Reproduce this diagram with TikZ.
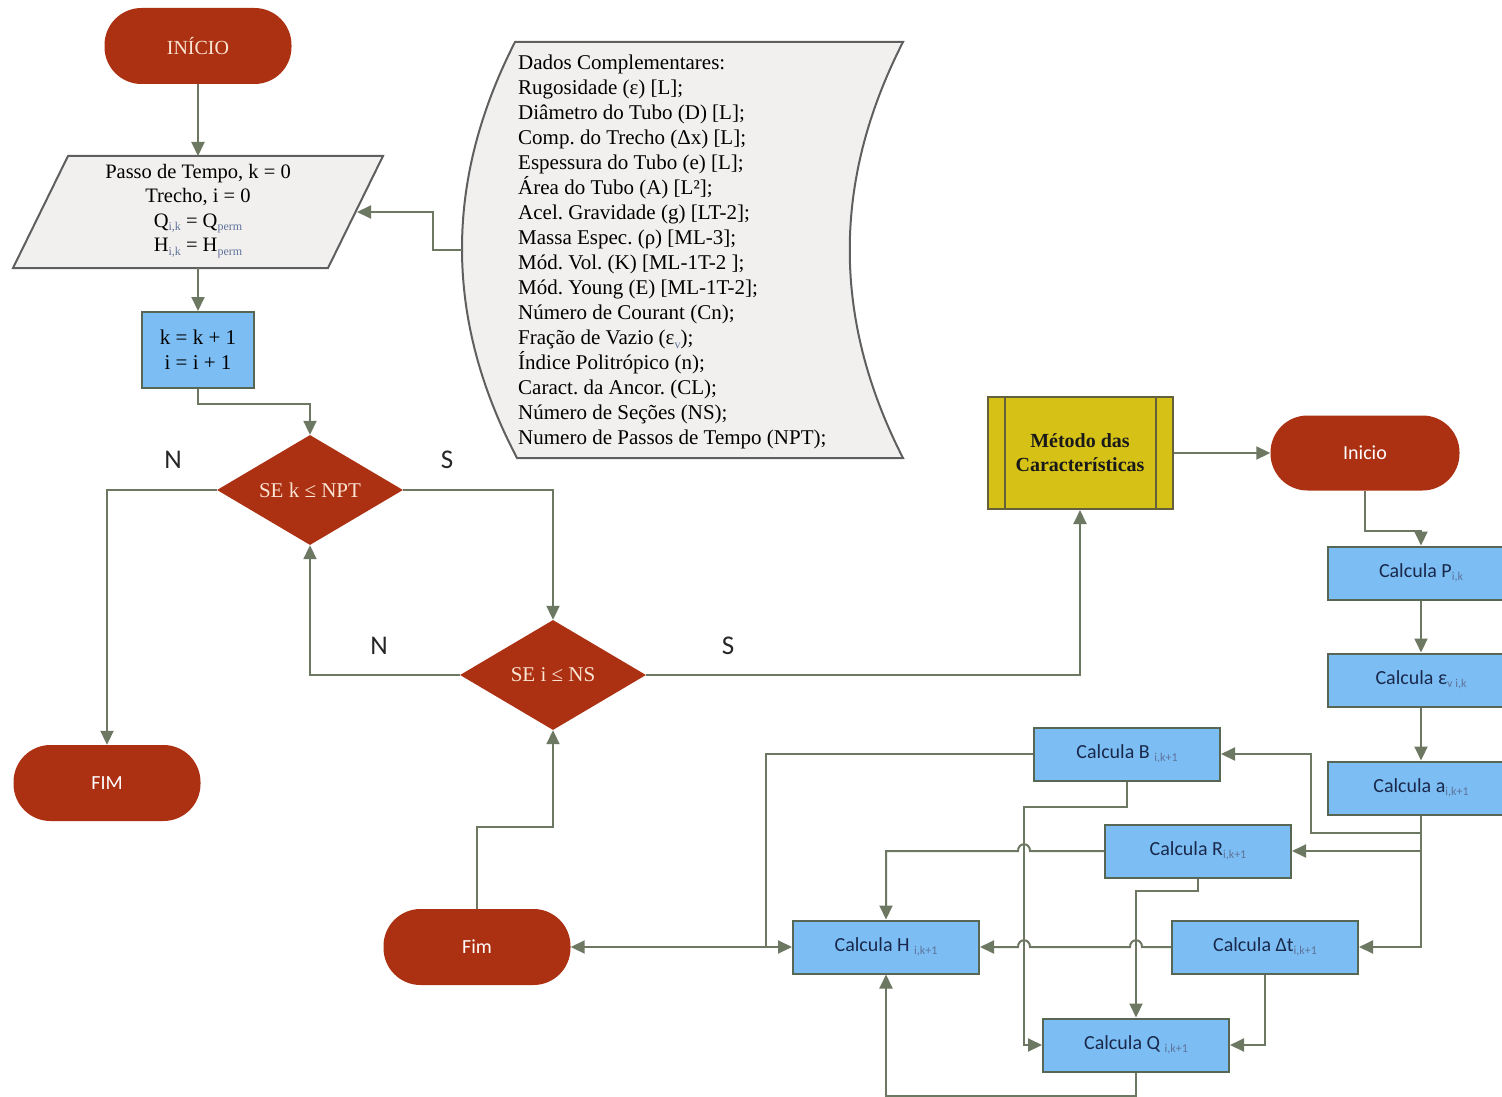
\documentclass[tikz,border=0pt]{standalone}
\usepackage{fontspec}
\setmainfont{Liberation Serif}
\newfontfamily\carl{Carlito}
\usetikzlibrary{shapes.geometric,arrows.meta}
\definecolor{dred}{RGB}{172,48,18}
\definecolor{lblue}{RGB}{124,190,244}
\definecolor{bordc}{RGB}{88,102,84}
\definecolor{linec}{RGB}{108,120,98}
\definecolor{paper}{RGB}{242,240,238}
\definecolor{paperb}{RGB}{95,95,95}
\definecolor{yell}{RGB}{214,194,22}
\definecolor{yellb}{RGB}{100,96,60}
\definecolor{navy}{RGB}{25,40,75}
\definecolor{subc}{RGB}{95,115,155}
\definecolor{peach}{RGB}{250,228,210}
\newcommand{\sbx}[1]{\raisebox{-0.35ex}{\fontsize{12}{12}\selectfont\color{subc}#1}}
\newcommand{\sbp}[1]{\raisebox{-0.35ex}{\fontsize{12}{12}\selectfont\color{subc}#1}}
\frenchspacing
\begin{document}
\begin{tikzpicture}[x=1pt,y=-1pt,
  conn/.style={draw=linec, line width=2pt, -{Triangle[length=14pt,width=13pt]}},
  plain/.style={draw=linec, line width=2pt},
  term/.style={rectangle, rounded corners=37pt, fill=dred, minimum width=187pt, minimum height=76pt, text=white, font=\carl\fontsize{20}{22}\selectfont},
  calc/.style={rectangle, draw=bordc, line width=2pt, fill=lblue, minimum width=186pt, minimum height=53pt, text=navy, font=\carl\fontsize{20}{22}\selectfont},
  dec/.style={diamond, aspect=1.69, inner sep=0pt, fill=dred, minimum width=186pt, minimum height=110pt, text=peach, font=\fontsize{21}{22}\selectfont},
  lbl/.style={font=\carl\fontsize{27}{28}\selectfont, text=black!85}
]
\useasboundingbox (0,0) rectangle (1502,1097);
\clip (0,0) rectangle (1502,1097);

% ---- left column ----
\node[term, text=peach, font=\fontsize{20}{21}\selectfont] (ini) at (198,46) {INÍCIO};

\draw[draw=paperb, line width=2pt, fill=paper] (68,156) -- (383,156) -- (328,268) -- (13,268) -- cycle;
\node[align=center, inner sep=0pt, font=\fontsize{20.5}{24.5}\selectfont] (par) at (198,211)
  {Passo de Tempo, k = 0\\ Trecho, i = 0\\ Q\sbp{i,k} = Q\sbp{perm}\\ H\sbp{i,k} = H\sbp{perm}};
\coordinate (parT) at (198,156);
\coordinate (parB) at (198,268);
\coordinate (parR) at (357,212);

\node[rectangle, draw=bordc, line width=2pt, fill=lblue, minimum width=112pt, minimum height=76pt,
      align=center, font=\fontsize{21}{25}\selectfont] (kbox) at (198,350) {k = k + 1\\ i = i + 1};

\node[dec] (d1) at (310,490) {SE k ≤ NPT};
\node[dec] (d2) at (553,675) {SE i ≤ NS};

\node[term] (fim1) at (107,783) {FIM};
\node[term] (fim2) at (477,947) {Fim};

\node[lbl] (n1) at (173,460) {N};
\node[lbl] (s1) at (447,460) {S};
\node[lbl] (n2) at (379,646) {N};
\node[lbl] (s2) at (728,646) {S};

% ---- document shape ----
\draw[draw=paperb, line width=2pt, fill=paper]
  (515,42) -- (903,42) .. controls (832,181) and (832,319) .. (903,458) -- (517,458)
  .. controls (444,319) and (444,181) .. (515,42) -- cycle;
\coordinate (docL) at (462,250);
\node[anchor=north west, inner sep=0pt, align=left, font=\fontsize{21}{25}\selectfont] (doc) at (518,55)
  {Dados Complementares:\\
   Rugosidade (ε) [L];\\
   Diâmetro do Tubo (D) [L];\\
   Comp. do Trecho (Δx) [L];\\
   Espessura do Tubo (e) [L];\\
   Área do Tubo (A) [L²];\\
   Acel. Gravidade (g) [LT-2];\\
   Massa Espec. (ρ) [ML-3];\\
   Mód. Vol. (K) [ML-1T-2 ];\\
   Mód. Young (E) [ML-1T-2];\\
   Número de Courant (Cn);\\
   Fração de Vazio (ε\sbx{v});\\
   Índice Politrópico (n);\\
   Caract. da Ancor. (CL);\\
   Número de Seções (NS);\\
   Numero de Passos de Tempo (NPT);};

% ---- right part ----
\node[rectangle, draw=yellb, line width=2pt, fill=yell, minimum width=185pt, minimum height=112pt,
      align=center, font=\bfseries\fontsize{20}{24}\selectfont, text=black!90] (met) at (1080,453)
  {Método das\\ Características};
\draw[draw=yellb, line width=2pt] ([xshift=18pt]met.north west) -- ([xshift=18pt]met.south west);
\draw[draw=yellb, line width=2pt] ([xshift=-18pt]met.north east) -- ([xshift=-18pt]met.south east);

\node[term, minimum width=189pt, minimum height=75pt] (ini2) at (1365,453) {Inicio};

\node[calc] (cP) at (1421,573) {Calcula P\sbx{i,k}};
\node[calc] (cE) at (1421,680) {Calcula ε\sbx{v i,k}};
\node[calc] (cA) at (1421,788) {Calcula a\sbx{i,k+1}};
\node[calc] (cB) at (1127,754) {Calcula B \sbx{i,k+1}};
\node[calc] (cR) at (1198,851) {Calcula R\sbx{i,k+1}};
\node[calc] (cH) at (886,947) {Calcula H \sbx{i,k+1}};
\node[calc] (cDt) at (1265,947) {Calcula Δt\sbx{i,k+1}};
\node[calc] (cQ) at (1136,1045) {Calcula Q \sbx{i,k+1}};

% ---- connectors, left ----
\draw[conn] (ini.south) -- (parT);
\draw[conn] (parB) -- (kbox.north);
\draw[conn] (kbox.south) -- ++(0,15) -| (d1.north);
\draw[conn] (d1.west) -| (fim1.north);
\draw[conn] (d1.east) -| (d2.north);
\draw[conn] (d2.west) -| (d1.south);
\draw[conn] (d2.east) -| (met.south);
\draw[conn] (fim2.north) -- ++(0,-82) -| (d2.south);
\draw[conn] (docL) -- ++(-29,0) |- (parR);

% ---- connectors, right ----
\draw[conn] (met.east) -- (ini2.west);
\draw[conn] (ini2.south) -- ++(0,40) -| (cP.north);
\draw[conn] (cP.south) -- (cE.north);
\draw[conn] (cE.south) -- (cA.north);
\coordinate (j1) at (1421,833);
\coordinate (j2) at (1421,851);
\draw[conn] (j1) -| (1311,754) -- (cB.east);
\draw[conn] (j2) -- (cR.east);
\draw[conn] (cA.south) |- (cDt.east);
\coordinate (j3) at (766,947);
\draw[conn] (cB.west) -| (j3) -- (cH.west);
\draw[conn] (j3) -- (fim2.east);
\coordinate (v1) at (1024,807);
\draw[conn] (cB.south) |- (v1) |- (cQ.west);
\draw[conn] (cR.west) -- (1030,851) .. controls (1030,842) and (1018,842) .. (1018,851) -| (cH.north);
\coordinate (v2) at (1136,891);
\draw[conn] (cR.south) |- (v2) -- (cQ.north);
\draw[conn] (cDt.west) -- (1142,947) .. controls (1142,938) and (1130,938) .. (1130,947)
   -- (1030,947) .. controls (1030,938) and (1018,938) .. (1018,947) -- (cH.east);
\draw[conn] (cDt.south) |- (cQ.east);
\draw[conn] (cQ.south) -- ++(0,23) -| (cH.south);
\end{tikzpicture}
\end{document}
